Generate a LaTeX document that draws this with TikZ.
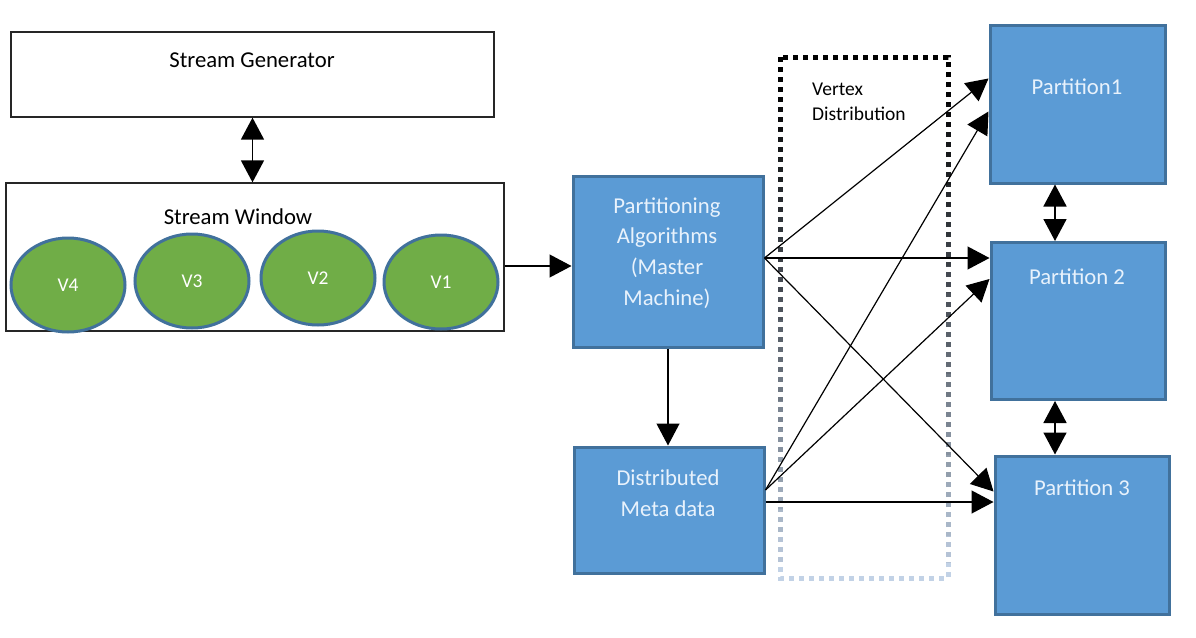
\documentclass[tikz,border=0pt]{standalone}
\usepackage{fontspec}
\setmainfont{Carlito}
\usetikzlibrary{arrows.meta,shapes.geometric,calc}
\definecolor{boxblue}{HTML}{5B9BD5}
\definecolor{boxedge}{HTML}{41719C}
\definecolor{vgreen}{HTML}{70AD47}
\definecolor{txtlight}{HTML}{E8F2FC}
\definecolor{dotlight}{HTML}{C2D2E6}
\newcommand\bigfs{\fontsize{22.7pt}{30.7pt}\selectfont}
\newcommand\smallfs{\fontsize{19.5pt}{24.5pt}\selectfont}
\newcommand\vfs{\fontsize{19.5pt}{22pt}\selectfont}
\tikzset{
 wbox/.style={draw=black!85, line width=1.3pt, fill=white, inner sep=0pt},
 bbox/.style={draw=boxedge, line width=3pt, fill=boxblue, inner sep=0pt},
 vnode/.style={ellipse, draw=boxedge, line width=3pt, fill=vgreen, minimum width=114pt, minimum height=94pt, inner sep=0pt, text=white, font=\vfs},
 lbl/.style={font=\bigfs, text=txtlight, align=center, inner sep=0pt},
 conn/.style={line width=1.2pt, -{Triangle[length=22pt,width=23pt]}},
 dconn/.style={line width=1.6pt, {Triangle[length=22pt,width=23pt]}-{Triangle[length=22pt,width=23pt]}},
}
\begin{document}
\begin{tikzpicture}[x=1pt,y=-1pt]
\useasboundingbox[fill=white] (0,0) rectangle (1196,637);

% left part
\node[wbox, minimum width=483pt, minimum height=85pt] (gen) at (252.5,74.5) {};
\node[font=\bigfs, inner sep=0pt] (gent) at (252,60) {Stream Generator};
\node[wbox, minimum width=498pt, minimum height=148pt] (win) at (255,257) {};
\node[font=\bigfs, inner sep=0pt] (wint) at (238,217) {Stream Window};
\node[vnode] (v4) at (68,285) {V4};
\node[vnode] (v3) at (192,281) {V3};
\node[vnode] (v2) at (318,278) {V2};
\node[vnode] (v1) at (441,282) {V1};

% middle boxes
\node[bbox, minimum width=190pt, minimum height=171pt] (pa) at (668,261.5) {};
\node[lbl] (pat) at (667,253) {Partitioning\\Algorithms\\(Master\\Machine)};
\node[bbox, minimum width=190pt, minimum height=126pt] (dm) at (669,510) {};
\node[lbl] (dmt) at (668,493) {Distributed\\Meta data};

% partitions
\node[bbox, minimum width=175pt, minimum height=158pt] (p1) at (1077.5,104) {};
\node[lbl] (p1t) at (1077,87) {Partition1};
\node[bbox, minimum width=174pt, minimum height=157pt] (p2) at (1078,321) {};
\node[lbl] (p2t) at (1077,277) {Partition 2};
\node[bbox, minimum width=174pt, minimum height=158pt] (p3) at (1082,535) {};
\node[lbl] (p3t) at (1082,488) {Partition 3};

% dotted gradient box
\foreach \i in {0,...,19}{
  \pgfmathsetmacro\ya{50+\i*27}
  \pgfmathsetmacro\yb{\ya+27}
  \pgfmathtruncatemacro\t{100*(\i/19)^1.2}
  \colorlet{bandc}{dotlight!\t!black}
  \begin{scope}
    \clip (770,\ya) rectangle (960,\yb);
    \draw[bandc, line width=5pt, dash pattern=on 5pt off 5pt] (780,57) rectangle (948,578);
  \end{scope}
}
\node[font=\smallfs, align=left, anchor=north west, inner sep=0pt] (vd) at (812,83) {Vertex\\Distribution};

% connectors
\draw[dconn] (gen.south) -- (gen.south |- win.north);
\draw[conn] ([yshift=-9pt]win.east) -- ([yshift=-9pt]win.east -| pa.west);
\draw[conn] (pa.south) -- (pa.south |- dm.north);

\coordinate (pas) at ([yshift=3.5pt]pa.east);
\draw[conn] (pas) -- ([yshift=-55pt]p1.north west);
\draw[conn] (pas) -- (pas -| p2.west);
\draw[conn] (pas) -- ([yshift=-37pt]p3.north west);
\coordinate (dms) at ([yshift=20pt]dm.east);
\draw[conn] (dms) -- ([yshift=-88pt]p1.north west);
\draw[conn] (dms) -- ([yshift=-38pt]p2.north west);
\draw[conn] ([yshift=8pt]dm.east) -- ([yshift=8pt]dm.east -| p3.west);

\draw[dconn] ([xshift=-22.5pt]p1.south) -- ([xshift=-22.5pt]p1.south |- p2.north);
\draw[dconn] ([xshift=-23pt]p2.south) -- ([xshift=-23pt]p2.south |- p3.north);
\end{tikzpicture}
\end{document}
